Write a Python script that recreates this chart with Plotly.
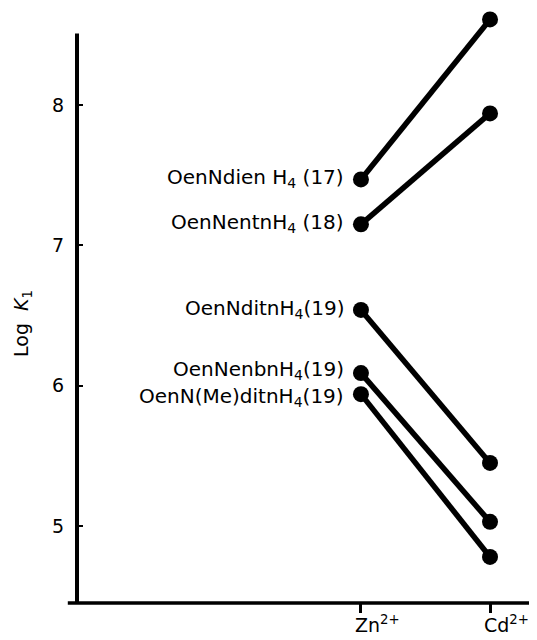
import plotly.graph_objects as go

# --- data ---
ions = ["Zn<sup>2+</sup>", "Cd<sup>2+</sup>"]
ligands = [
    "OenNdien H<sub>4</sub> (17)",
    "OenNentnH<sub>4</sub> (18)",
    "OenNditnH<sub>4</sub>(19)",
    "OenNenbnH<sub>4</sub>(19)",
    "OenN(Me)ditnH<sub>4</sub>(19)",
]
logK_zn = [7.47, 7.15, 6.54, 6.09, 5.94]
logK_cd = [8.61, 7.94, 5.45, 5.03, 4.78]
y_ticks = [5, 6, 7, 8]

# label vertical nudges (pixels), layout only
label_yshift = [1, 1, 1, 3, -3]

FONT = "DejaVu Sans"
xpos = [0, 1]

fig = go.Figure()
for name, zn, cd, ys in zip(ligands, logK_zn, logK_cd, label_yshift):
    fig.add_trace(go.Scatter(
        x=xpos, y=[zn, cd], mode="lines+markers",
        line=dict(color="black", width=5.5),
        marker=dict(color="black", size=16),
        cliponaxis=False, showlegend=False, name=name,
    ))
    fig.add_annotation(
        x=0, y=zn, xref="x", yref="y", text=name, showarrow=False,
        xanchor="right", yanchor="middle", xshift=-15, yshift=ys,
        font=dict(family=FONT, size=20, color="black"),
    )

for xi, ion in zip(xpos, ions):
    fig.add_annotation(
        x=xi, y=0, xref="x", yref="paper", text=ion, showarrow=False,
        xanchor="left", yanchor="top", xshift=-8, yshift=-7,
        font=dict(family=FONT, size=19, color="black"),
    )

fig.add_annotation(
    x=-0.12, y=0.472, xref="paper", yref="paper", xanchor="center",
    text="Log  <i>K</i><sub>1</sub>", showarrow=False, textangle=-90,
    font=dict(family=FONT, size=19, color="black"),
)

# axis lines
fig.add_shape(type="line", xref="paper", yref="y", x0=0, x1=0, y0=4.452, y1=8.51,
              line=dict(color="black", width=4))
fig.add_shape(type="line", xref="paper", yref="paper", x0=-0.02, x1=1.0, y0=0, y1=0,
              line=dict(color="black", width=3.5))

fig.update_xaxes(
    range=[-2.20, 1.364], showgrid=False, zeroline=False, showline=False,
    tickmode="array", tickvals=xpos, ticktext=["", ""], ticks="outside",
    ticklen=9, tickwidth=2.5, tickcolor="black", showticklabels=False,
)
fig.update_yaxes(
    range=[4.452, 8.677], showgrid=False, zeroline=False, showline=False,
    tickmode="array", tickvals=y_ticks, ticks="inside", ticklen=6, tickwidth=2,
    tickcolor="black", ticklabelstandoff=12,
    tickfont=dict(family=FONT, size=19, color="black"),
)
fig.update_layout(
    width=529, height=632,
    margin=dict(l=69, r=0, t=2, b=37),
    plot_bgcolor="white", paper_bgcolor="white",
    font=dict(family=FONT, color="black"),
)
fig.write_html("out.html")
